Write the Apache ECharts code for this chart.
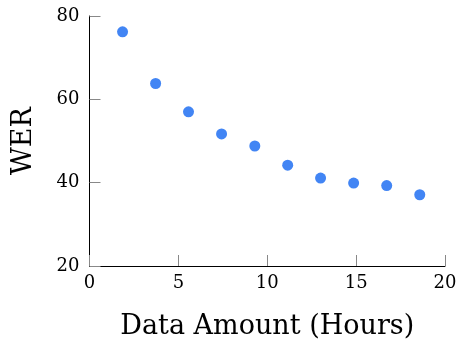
<!DOCTYPE html>
<html><head><meta charset="utf-8">
<script src="https://cdn.jsdelivr.net/npm/echarts@6/dist/echarts.min.js"></script>
<style>html,body{margin:0;padding:0;background:#fff}#c{width:459px;height:341px}</style>
</head><body><div id="c"></div>
<script>
const hours = [1.86, 3.72, 5.57, 7.43, 9.3, 11.15, 13.0, 14.86, 16.72, 18.58];
const wer = [76.2, 63.8, 57.0, 51.7, 48.8, 44.2, 41.1, 39.9, 39.3, 37.1];
const xTicks = [0, 5, 10, 15, 20];
const yTicks = [20, 40, 60, 80];
const font = '"DejaVu Serif", "Liberation Serif", serif';
const chart = echarts.init(document.getElementById('c'), null, {renderer: 'canvas'});
chart.setOption({
  animation: false,
  grid: {left: 89.5, right: 14, top: 16, bottom: 75, containLabel: false, outerBoundsMode: 'none'},
  xAxis: {
    type: 'value', min: xTicks[0], max: xTicks[xTicks.length-1], interval: 5,
    name: 'Data Amount (Hours)', nameLocation: 'middle', nameGap: 47,
    nameTextStyle: {fontFamily: font, fontSize: 27, color: '#000'},
    axisLine: {show: true, lineStyle: {color: '#000', width: 1}},
    axisTick: {show: true, inside: true, length: 11, lineStyle: {color: '#888'}},
    axisLabel: {fontFamily: font, fontSize: 18, color: '#000', margin: 8},
    splitLine: {show: false}
  },
  yAxis: {
    type: 'value', min: yTicks[0], max: yTicks[yTicks.length-1], interval: 20,
    name: 'WER', nameLocation: 'middle', nameGap: 52, nameRotate: 90,
    nameTextStyle: {fontFamily: font, fontSize: 27, color: '#000'},
    axisLine: {show: true, lineStyle: {color: '#000', width: 1}},
    axisTick: {show: true, inside: true, length: 11, lineStyle: {color: '#888'}},
    axisLabel: {fontFamily: font, fontSize: 18, color: '#000', margin: 10},
    splitLine: {show: false}
  },
  series: [{
    type: 'scatter',
    data: hours.map((h, i) => [h, wer[i]]),
    symbolSize: 11,
    itemStyle: {color: '#4285F4', opacity: 1}
  }]
});
</script></body></html>
